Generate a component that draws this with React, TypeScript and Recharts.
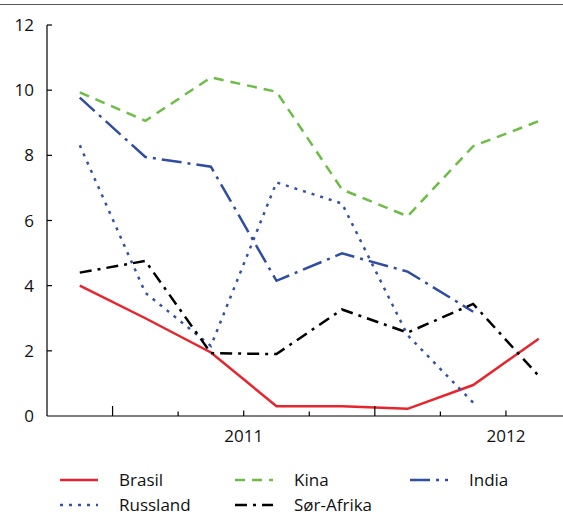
import { LineChart, Line, XAxis, YAxis } from "recharts"

// kvartaler, 4. kv. 2010 til 3. kv. 2012
const periods = ["2010K4", "2011K1", "2011K2", "2011K3", "2011K4", "2012K1", "2012K2", "2012K3"]

const brasil = [4.0, 3.0, 1.95, 0.3, 0.3, 0.22, 0.95, 2.37]
const kina = [9.93, 9.06, 10.39, 9.95, 6.95, 6.13, 8.28, 9.05]
const india = [9.77, 7.95, 7.65, 4.15, 4.99, 4.43, 3.2, null]
const russland = [8.31, 3.78, 2.15, 7.17, 6.52, 2.48, 0.41, null]
const sorAfrika = [4.4, 4.76, 1.93, 1.9, 3.27, 2.56, 3.44, 1.23]

const yTicks = [0, 2, 4, 6, 8, 10, 12]
// kvartalsgrenser; årsgrenser er lange, midten av året har årstall
const xTicks = [0.5, 1.5, 2.5, 3.5, 4.5, 5.5, 6.5]
const yearBounds = [0.5, 4.5]
const yearLabels: Record<number, string> = { 2.5: "2011", 6.5: "2012" }

const FONT = "'Open Sans', 'Noto Sans', sans-serif"

const series = [
  { key: "brasil", name: "Brasil", color: "#e8242c", dash: undefined },
  { key: "kina", name: "Kina", color: "#6bbd46", dash: "10 7" },
  { key: "india", name: "India", color: "#2f4ea1", dash: "20 6 3 6" },
  { key: "russland", name: "Russland", color: "#3552a8", dash: "3 6" },
  { key: "sorAfrika", name: "Sør-Afrika", color: "#000000", dash: "12 6 3 6" },
]

const data = periods.map((p, i) => ({
  period: p,
  x: i,
  brasil: brasil[i],
  kina: kina[i],
  india: india[i],
  russland: russland[i],
  sorAfrika: sorAfrika[i],
}))

function XTick({ x, y, payload }: any) {
  const v = payload.value as number
  const len = yearBounds.includes(v) ? 10 : yearLabels[v] ? 5.5 : 4.5
  return (
    <g>
      <line x1={x} y1={y} x2={x} y2={y - len} stroke="#000" strokeWidth={1.2} />
      {yearLabels[v] && (
        <text x={x} y={y + 26} textAnchor="middle" fontSize={17} fontFamily={FONT} fill="#111">
          {yearLabels[v]}
        </text>
      )}
    </g>
  )
}

function YTick({ x, y, payload }: any) {
  return (
    <g>
      {payload.value !== 0 && (
        <line x1={x} y1={y} x2={x + 5} y2={y} stroke="#000" strokeWidth={1.2} />
      )}
      <text x={x - 13} y={y + 6} textAnchor="end" fontSize={17} fontFamily={FONT} fill="#111">
        {payload.value}
      </text>
    </g>
  )
}

// legendrekkefølge slik som i figuren: tre kolonner, to rader
const legendLayout = [
  { key: "brasil", col: 0, row: 0 },
  { key: "kina", col: 1, row: 0 },
  { key: "india", col: 2, row: 0 },
  { key: "russland", col: 0, row: 1 },
  { key: "sorAfrika", col: 1, row: 1 },
]
const colX = [60, 235, 410]
const rowY = [20, 45]

function ChartLegend() {
  return (
    <svg width={563} height={71} style={{ position: "absolute", left: 0, top: 460 }}>
      {legendLayout.map((l) => {
        const s = series.find((d) => d.key === l.key)!
        const x0 = colX[l.col]
        const y0 = rowY[l.row]
        return (
          <g key={l.key}>
            <line
              x1={x0}
              y1={y0}
              x2={x0 + 38}
              y2={y0}
              stroke={s.color}
              strokeWidth={2.5}
              strokeDasharray={s.dash}
            />
            <text x={x0 + 59} y={y0 + 6} fontSize={17} fontFamily={FONT} fill="#111">
              {s.name}
            </text>
          </g>
        )
      })}
    </svg>
  )
}

export default function App() {
  return (
    <div style={{ position: "absolute", left: 0, top: 0, width: 563, height: 517, background: "#fff", overflow: "hidden" }}>
      <div style={{ position: "absolute", left: 0, top: 4, width: 563, height: 1, background: "#555" }} />
      <div style={{ position: "absolute", left: 0, top: 0 }}>
        <LineChart width={563} height={446} data={data} margin={{ top: 25, right: 0, bottom: 0, left: 0 }}>
          <XAxis
            dataKey="x"
            type="number"
            domain={[-0.5, 7.37]}
            ticks={xTicks}
            allowDataOverflow
            height={30}
            tickSize={0}
            tickMargin={0}
            tickLine={false}
            axisLine={{ stroke: "#000", strokeWidth: 1.2 }}
            tick={<XTick />}
            interval={0}
          />
          <YAxis
            type="number"
            domain={[0, 12]}
            ticks={yTicks}
            width={47}
            tickSize={0}
            tickMargin={0}
            tickLine={false}
            axisLine={{ stroke: "#000", strokeWidth: 1.2 }}
            tick={<YTick />}
            interval={0}
          />
          {series.map((s) => (
            <Line
              key={s.key}
              dataKey={s.key}
              name={s.name}
              type="linear"
              stroke={s.color}
              strokeWidth={2.5}
              strokeDasharray={s.dash}
              dot={false}
              activeDot={false}
              isAnimationActive={false}
            />
          ))}
        </LineChart>
      </div>
      <ChartLegend />
    </div>
  )
}
